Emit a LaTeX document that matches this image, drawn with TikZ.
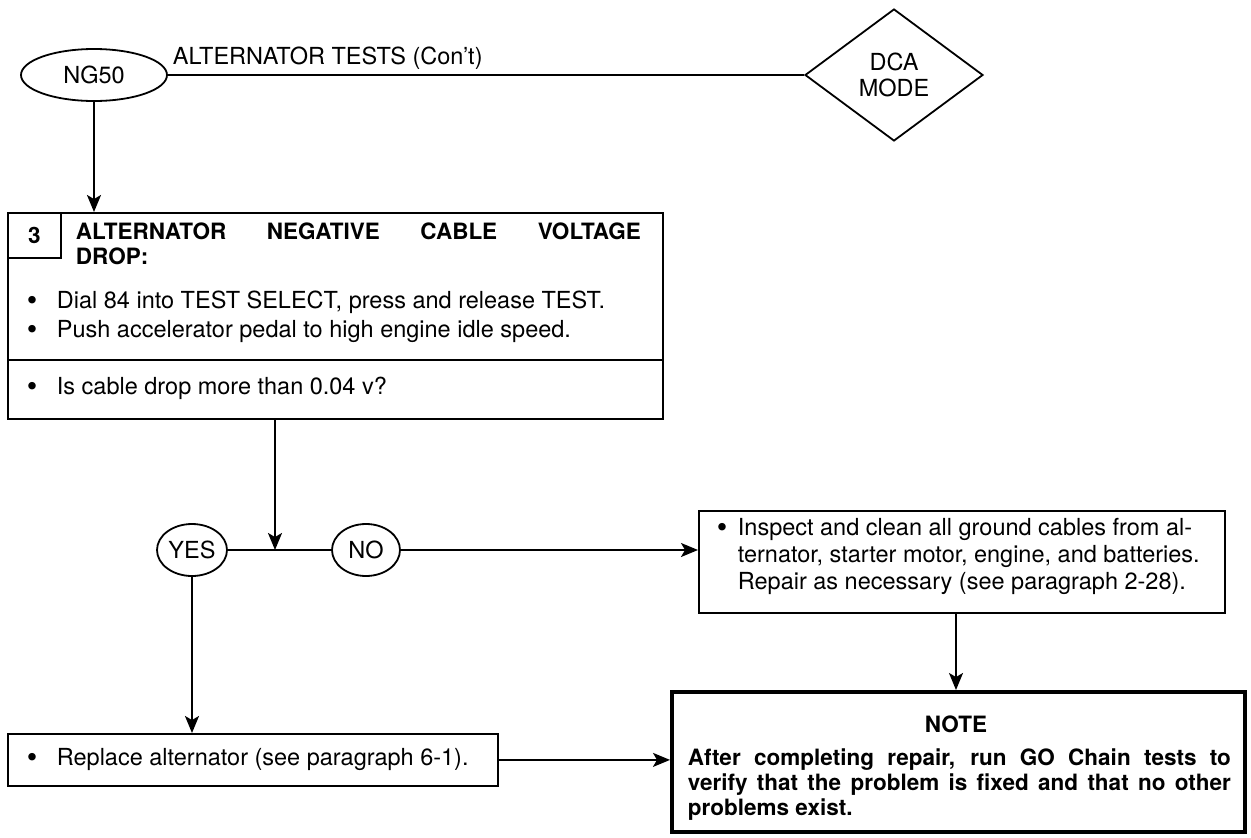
\documentclass[tikz,border=0pt]{standalone}
\usepackage{fontspec}
\setmainfont{TeX Gyre Heros}
\usetikzlibrary{arrows.meta,shapes.geometric}
\newcommand\mybul[1]{\makebox[#1][l]{\raisebox{-2.3pt}{\fontsize{30}{30}\selectfont •}}}
\begin{document}
\begin{tikzpicture}[x=1pt,y=-1pt,line width=1.8pt,
  txt/.style={font=\fontsize{23.5}{27}\selectfont,inner sep=0pt},
  btxt/.style={font=\fontsize{22.5}{25}\selectfont\bfseries,inner sep=0pt},
  box/.style={draw,inner sep=0pt,anchor=north west},
  oval/.style={draw,ellipse,inner sep=0pt,font=\fontsize{23.5}{27}\selectfont},
  arr/.style={-{Stealth[length=17pt,width=14pt,inset=4pt]}}]
\useasboundingbox (0,0) rectangle (1251,838);
% top row
\node[oval,minimum width=146pt,minimum height=52pt] (ng) at (94,75) {NG50};
\node[draw,diamond,inner sep=0pt,minimum width=178pt,minimum height=132pt,align=center,font=\fontsize{23.5}{26}\selectfont] (dca) at (894,75) {DCA\\MODE};
\node[txt,anchor=base west] (title) at (172,64) {ALTERNATOR TESTS (Con't)};
\draw (ng) -- (dca);
% step 3 box
\node[box,minimum width=655pt,minimum height=206pt] (b3) at (7,212) {};
\node[box,minimum width=53pt,minimum height=45pt] (n3) at (7,212) {};
\node[btxt] (n3t) at (n3) {3};
\coordinate (dl) at (7,360);
\coordinate (dr) at (662,360);
\draw (dl) -- (dr);
\node[btxt,anchor=north west,align=left] (head) at (75,222) {\makebox[565pt][s]{ALTERNATOR NEGATIVE CABLE VOLTAGE}\\DROP:};
\node[txt,anchor=west] (s1) at (26,302) {\mybul{30pt}Dial 84 into TEST SELECT, press and release TEST.};
\node[txt,anchor=west] (s2) at (26,331) {\mybul{30pt}Push accelerator pedal to high engine idle speed.};
\node[txt,anchor=west] (s3) at (26,388) {\mybul{30pt}Is cable drop more than 0.04 v?};
\draw[arr] (ng) -- (ng |- b3.north);
% decision
\coordinate (j) at (275,550);
\node[oval,minimum width=70pt,minimum height=52pt] (yes) at (192,550) {YES};
\node[oval,minimum width=68pt,minimum height=52pt] (no) at (366,550) {NO};
\draw[arr] (b3.south -| j) -- (j);
\draw (yes) -- (no);
% inspect box
\node[box,minimum width=526pt,minimum height=102pt] (insp) at (698,510) {};
\node[txt,anchor=north west,align=left] (itxt) at (716,517) {\mybul{21pt}Inspect and clean all ground cables from al-\\\hspace*{21pt}ternator, starter motor, engine, and batteries.\\\hspace*{21pt}Repair as necessary (see paragraph 2-28).};
\draw[arr] (no.east) -- (no.east -| insp.west);
% replace box
\node[box,minimum width=490pt,minimum height=52pt] (rep) at (7,733) {};
\node[txt,anchor=west] (rtxt) at (26,759) {\mybul{30pt}Replace alternator (see paragraph 6-1).};
\draw[arr] (yes) -- (yes |- rep.north);
% note box
\node[box,line width=4pt,minimum width=573pt,minimum height=140pt] (note) at (670,690) {};
\node[btxt] (nt) at (956,724) {NOTE};
\node[btxt,anchor=north west,align=left] (nb) at (687,748) {\makebox[543pt][s]{After completing repair, run GO Chain tests to}\\\makebox[543pt][s]{verify that the problem is fixed and that no other}\\problems exist.};
\coordinate (ix) at (956,0);
\draw[arr] (insp.south -| ix) -- (note.north -| ix);
\draw[arr] (rep.east) -- (rep.east -| note.west);
\end{tikzpicture}
\end{document}
